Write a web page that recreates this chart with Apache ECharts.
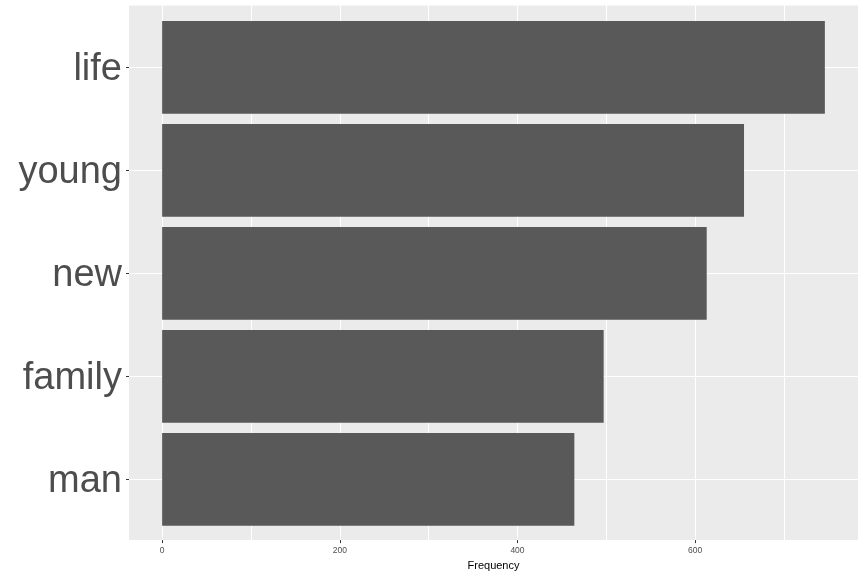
<!DOCTYPE html>
<html>
<head>
<meta charset="utf-8">
<script src="https://cdn.jsdelivr.net/npm/echarts@6/dist/echarts.min.js"></script>
<style>
html,body{margin:0;padding:0;background:#fff;}
#c{width:864px;height:576px;}
</style>
</head>
<body>
<div id="c"></div>
<script>
const categories = ['life', 'young', 'new', 'family', 'man'];
const frequencies = [746, 655, 613, 497, 464];
const xTickValues = [0, 200, 400, 600];
const xGridMax = 700;
const xTitle = 'Frequency';

const dataMax = Math.max(...frequencies);
const xMin = -0.05 * dataMax;
const xMax = 1.05 * dataMax;

const FONT = 'Liberation Sans, Arial, sans-serif';
const PANEL_L = 129, PANEL_W = 729, PANEL_T = 5.5, PANEL_H = 535.6;
const n = categories.length;
const band = PANEL_H / (n + 0.2);          // ggplot discrete expansion 0.6 each side
const pxPerUnit = PANEL_W / (xMax - xMin);

const chart = echarts.init(document.getElementById('c'), null, {renderer: 'canvas'});
chart.setOption({
  animation: false,
  backgroundColor: '#ffffff',
  textStyle: {fontFamily: FONT},
  grid: [
    {left: PANEL_L, top: PANEL_T, width: PANEL_W, height: PANEL_H, show: true,
     backgroundColor: '#EBEBEB', borderWidth: 0, containLabel: false},
    {left: PANEL_L + (0 - xMin) * pxPerUnit, top: PANEL_T, width: xGridMax * pxPerUnit, height: PANEL_H},
    {left: PANEL_L, top: PANEL_T + 0.6 * band, width: PANEL_W, height: (n - 1) * band},
    {left: PANEL_L, top: PANEL_T + 0.1 * band, width: PANEL_W, height: n * band}
  ],
  xAxis: [
    {gridIndex: 0, type: 'value', min: xMin, max: xMax,
     axisLine: {show: false, onZero: false},
     axisTick: {show: true, customValues: xTickValues, length: 3, lineStyle: {color: '#333333', width: 1}},
     axisLabel: {show: true, customValues: xTickValues, fontSize: 8.5, color: '#4D4D4D', margin: 6, fontFamily: FONT},
     splitLine: {show: false},
     name: xTitle, nameLocation: 'middle', nameGap: 17,
     nameTextStyle: {fontSize: 11, color: '#000000', fontFamily: FONT}},
    {gridIndex: 1, type: 'value', min: 0, max: xGridMax, interval: 100,
     axisLine: {show: false}, axisTick: {show: false}, axisLabel: {show: false},
     splitLine: {show: true, lineStyle: {color: '#FFFFFF', width: 1}}},
    {gridIndex: 2, type: 'value', min: 0, max: 1, show: false},
    {gridIndex: 3, type: 'value', min: xMin, max: xMax, show: false,
     axisLine: {onZero: false}}
  ],
  yAxis: [
    {gridIndex: 0, type: 'value', min: 0, max: 1, show: false},
    {gridIndex: 1, type: 'value', min: 0, max: 1, show: false},
    {gridIndex: 2, type: 'value', min: 0, max: n - 1, interval: 1,
     axisLine: {show: false}, axisTick: {show: false}, axisLabel: {show: false},
     splitLine: {show: true, lineStyle: {color: '#FFFFFF', width: 1}}},
    {gridIndex: 3, type: 'category', data: categories, inverse: true, position: 'left',
     axisLine: {show: false, onZero: false},
     axisTick: {show: true, alignWithLabel: true, length: 3, lineStyle: {color: '#333333', width: 1}},
     axisLabel: {margin: 7, formatter: '{w|{value}}',
       rich: {w: {fontSize: 38, color: '#4D4D4D', fontFamily: FONT, padding: [5, 0, 0, 0]}}},
     splitLine: {show: false}}
  ],
  series: [
    {type: 'bar', xAxisIndex: 3, yAxisIndex: 3, data: frequencies,
     barCategoryGap: '10%', z: 5,
     itemStyle: {color: '#595959'}, silent: true}
  ]
});
</script>
</body>
</html>
